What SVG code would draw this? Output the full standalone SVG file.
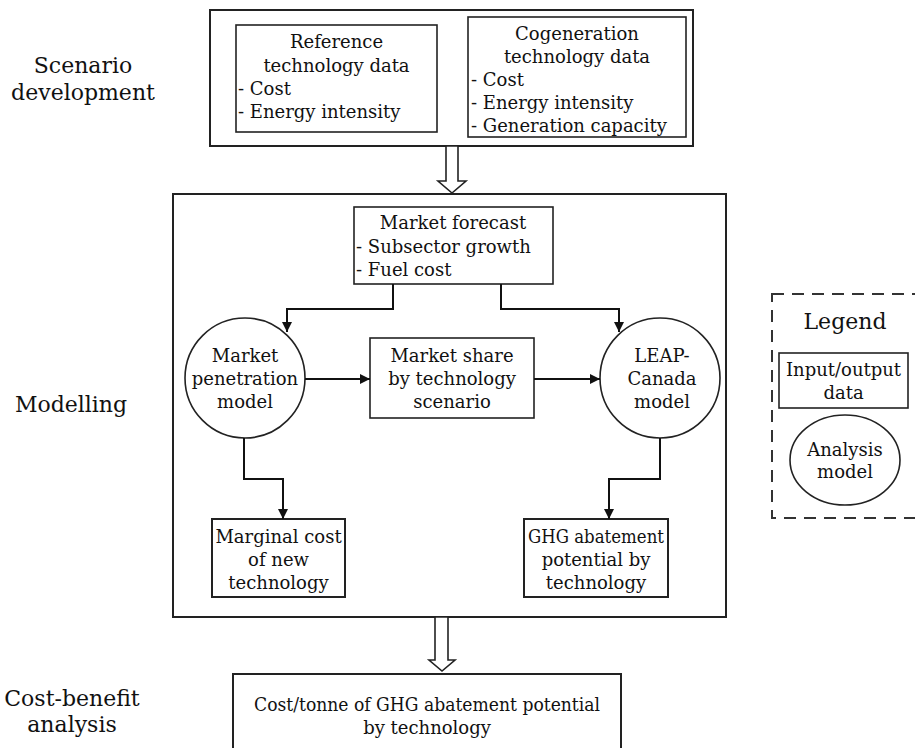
<svg xmlns="http://www.w3.org/2000/svg" width="915" height="748" viewBox="0 0 915 748">
<defs>
<style>
text{font-family:"DejaVu Serif","Liberation Serif",serif;fill:#111;}
.lbl{font-size:22px;text-anchor:middle;}
.t{font-size:18px;}
.c{text-anchor:middle;}
.box{fill:#fff;stroke:#222;stroke-width:2;}
.thin{fill:#fff;stroke:#222;stroke-width:1.6;}
.edge{fill:none;stroke:#111;stroke-width:2;}
.hollow{fill:#fff;stroke:#222;stroke-width:1.6;stroke-linejoin:miter;}
</style>
<marker id="ah" viewBox="0 0 10 10" refX="10" refY="5" markerWidth="5" markerHeight="6" orient="auto" markerUnits="strokeWidth">
<path d="M0,0 L10,5 L0,10 z" fill="#111"/>
</marker>
</defs>
<rect width="915" height="748" fill="#fff"/>

<g id="stage-labels">
<text class="lbl" x="83" y="73">Scenario</text>
<text class="lbl" x="83" y="100">development</text>
<text class="lbl" x="71" y="412">Modelling</text>
<text class="lbl" x="72" y="706">Cost-benefit</text>
<text class="lbl" x="72" y="732">analysis</text>
</g>

<g id="scenario-group">
<rect class="box" x="210" y="10" width="483" height="136"/>
</g>
<g id="reference-data">
<rect class="thin" x="236" y="25" width="201" height="107"/>
<text class="t c" x="336.5" y="48">Reference</text>
<text class="t c" x="336.5" y="72">technology data</text>
<text class="t" x="238" y="95">- Cost</text>
<text class="t" x="238" y="118">- Energy intensity</text>
</g>
<g id="cogeneration-data">
<rect class="thin" x="468" y="17" width="218" height="120"/>
<text class="t c" x="577" y="40">Cogeneration</text>
<text class="t c" x="577" y="63">technology data</text>
<text class="t" x="471" y="86">- Cost</text>
<text class="t" x="471" y="109">- Energy intensity</text>
<text class="t" x="471" y="132">- Generation capacity</text>
</g>

<g id="modelling-group">
<rect class="box" x="173" y="194" width="553" height="423"/>
</g>
<g id="market-forecast">
<rect class="thin" x="354" y="207" width="199" height="77"/>
<text class="t c" x="453" y="229">Market forecast</text>
<text class="t" x="356" y="253">- Subsector growth</text>
<text class="t" x="356" y="276">- Fuel cost</text>
</g>
<g id="market-penetration">
<circle class="thin" cx="245" cy="378" r="60"/>
<text class="t c" x="245" y="362">Market</text>
<text class="t c" x="245" y="385">penetration</text>
<text class="t c" x="245" y="408">model</text>
</g>
<g id="market-share">
<rect class="thin" x="370" y="338" width="164" height="80"/>
<text class="t c" x="452" y="362">Market share</text>
<text class="t c" x="452" y="385">by technology</text>
<text class="t c" x="452" y="408">scenario</text>
</g>
<g id="leap-canada">
<circle class="thin" cx="660" cy="378" r="60"/>
<text class="t c" x="662" y="362">LEAP-</text>
<text class="t c" x="662" y="385">Canada</text>
<text class="t c" x="662" y="408">model</text>
</g>
<g id="marginal-cost">
<rect class="box" x="212" y="519" width="133" height="78"/>
<text class="t c" x="278.5" y="543">Marginal cost</text>
<text class="t c" x="278.5" y="566">of new</text>
<text class="t c" x="278.5" y="589">technology</text>
</g>
<g id="ghg-abatement">
<rect class="box" x="524" y="519" width="144" height="78"/>
<text class="t c" x="596" y="543" textLength="136" lengthAdjust="spacingAndGlyphs">GHG abatement</text>
<text class="t c" x="596" y="566">potential by</text>
<text class="t c" x="596" y="589">technology</text>
</g>

<g id="cost-per-tonne">
<rect class="box" x="233" y="674" width="388" height="90"/>
<text class="t c" x="427" y="711" textLength="346" lengthAdjust="spacingAndGlyphs">Cost/tonne of GHG abatement potential</text>
<text class="t c" x="427" y="734">by technology</text>
</g>

<g id="legend">
<rect x="772" y="294" width="150" height="224" fill="none" stroke="#333" stroke-width="2" stroke-dasharray="12,8"/>
<text class="lbl" x="845" y="329">Legend</text>
<rect class="thin" x="779" y="353" width="129" height="55"/>
<text class="t c" x="843.5" y="376">Input/output</text>
<text class="t c" x="843.5" y="399">data</text>
<ellipse class="thin" cx="845" cy="460" rx="55" ry="45"/>
<text class="t c" x="845" y="456">Analysis</text>
<text class="t c" x="845" y="478">model</text>
</g>

<g id="connectors">
<polygon class="hollow" points="446,146 458,146 458,181 466,181 452,193 438,181 446,181"/>
<polygon class="hollow" points="435,617 448,617 448,660 455,660 442,671 429,660 435,660"/>
<polyline class="edge" points="393,284 393,309 287,309 287,332" marker-end="url(#ah)"/>
<polyline class="edge" points="501,284 501,309 619,309 619,332" marker-end="url(#ah)"/>
<line class="edge" x1="305" y1="379" x2="370" y2="379" marker-end="url(#ah)"/>
<line class="edge" x1="534" y1="379" x2="600" y2="379" marker-end="url(#ah)"/>
<polyline class="edge" points="244,438 244,479 283,479 283,519" marker-end="url(#ah)"/>
<polyline class="edge" points="660,438 660,479 609,479 609,519" marker-end="url(#ah)"/>
</g>
</svg>
